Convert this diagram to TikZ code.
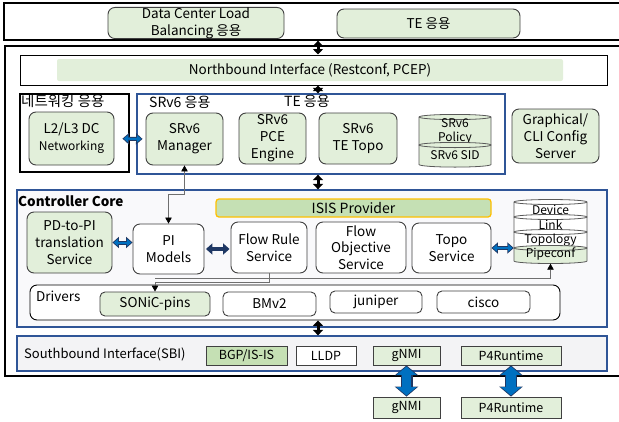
\documentclass[tikz,border=0pt]{standalone}
\usepackage{fontspec}
\setmainfont{Noto Sans CJK KR}
\usetikzlibrary{arrows.meta,calc}
\definecolor{lg}{HTML}{E2EFDA}
\definecolor{mg}{HTML}{C5E0B4}
\definecolor{bl}{HTML}{2F5597}
\definecolor{ablue}{HTML}{0070C0}
\definecolor{adark}{HTML}{1F3864}
\definecolor{corefill}{HTML}{F9F9FB}
\definecolor{sbifill}{HTML}{F3F3F5}
\definecolor{isisb}{HTML}{FFC000}
\definecolor{lineg}{HTML}{404040}
\definecolor{cylline}{HTML}{595959}
\definecolor{connc}{HTML}{6F6F6F}
\tikzset{ctip/.tip={Triangle[length=6pt,width=6.5pt,color=black]}}
\newcommand\cylayer[8]{% name, cx, ytop, ybot, rx, ry, fill, text
  \filldraw[fill=#7, draw=cylline, line width=0.8pt] (#2-#5,-#3) -- (#2-#5,-#4)
    arc[start angle=180, end angle=360, x radius=#5, y radius=#6] -- (#2+#5,-#3)
    arc[start angle=0, end angle=180, x radius=#5, y radius=#6] -- cycle;
  \draw[cylline, line width=0.8pt] (#2-#5,-#3) arc[start angle=180, end angle=360, x radius=#5, y radius=#6];
  \node[cyltxt, minimum width=2*#5, minimum height=#4-#3] (#1) at (#2,{-(#3+#4)/2}) {#8};
}
\begin{document}
\begin{tikzpicture}[x=1pt, y=1pt, font=\fontsize{13.5}{17}\selectfont,
  box/.style={draw=lineg, line width=0.9pt, rounded corners=7pt, align=center, inner sep=0pt},
  gbox/.style={box, fill=lg},
  wbox/.style={box, fill=white},
  sbox/.style={box, rounded corners=5pt},
  frame/.style={draw=black, line width=1.3pt, inner sep=0pt},
  bframe/.style={draw=bl, line width=1.3pt, inner sep=0pt},
  sqbox/.style={draw=lineg, line width=0.8pt, inner sep=0pt, font=\fontsize{12.5}{14}\selectfont},
  lbl/.style={inner sep=0pt},
  cyltxt/.style={inner sep=0pt, align=center, font=\fontsize{12}{14}\selectfont},
  vdbl/.style={line width=3pt, black, {Triangle[length=5.5pt,width=10pt]}-{Triangle[length=5.5pt,width=10pt]}},
  hout/.style={line width=4pt, adark, {Triangle[length=6.5pt,width=11pt]}-{Triangle[length=6.5pt,width=11pt]}},
  hin/.style={line width=2pt, ablue, shorten <=1.3pt, shorten >=1.3pt, {Triangle[length=4.3pt,width=7pt]}-{Triangle[length=4.3pt,width=7pt]}},
  bout/.style={line width=12pt, adark, {Triangle[length=10pt,width=23pt]}-{Triangle[length=10pt,width=23pt]}},
  bin/.style={line width=9.6pt, ablue, shorten <=1.2pt, shorten >=1.2pt, {Triangle[length=8.2pt,width=19.5pt]}-{Triangle[length=8.2pt,width=19.5pt]}},
  conn/.style={connc, line width=0.8pt}
]
\useasboundingbox (0,0) rectangle (619,-421);
\coordinate (ax) at (318,0);
% ---------- outer frames
\node[frame, minimum width=621pt, minimum height=37pt] (topframe) at (314.5,-21.5) {};
\node[frame, minimum width=620pt, minimum height=330pt] (mainframe) at (315,-211) {};
% ---------- top applications
\node[gbox, minimum width=176pt, minimum height=30pt] (dclb) at (196,-23) {Data Center Load\\Balancing 응용};
\node[gbox, minimum width=183pt, minimum height=29pt] (teapp) at (428.5,-23.5) {TE 응용};
% ---------- northbound
\node[draw=black, line width=1pt, inner sep=0pt, minimum width=587pt, minimum height=30pt] (nbi) at (313.5,-70) {};
\node[fill=lg, rounded corners=2pt, inner sep=0pt, minimum width=506pt, minimum height=22pt] (nbitext) at (310,-70) {Northbound Interface (Restconf, PCEP)};
% ---------- application row
\node[frame, line width=1.1pt, minimum width=109pt, minimum height=78pt] (netapp) at (74.5,-133) {};
\node[lbl, anchor=north west, font=\fontsize{14.5}{17}\selectfont] (netlbl) at (21,-94.5) {네트워킹 응용};
\node[gbox, minimum width=85pt, minimum height=53pt] (l2l3) at (71.5,-138.5) {L2/L3 DC\\{\fontsize{12}{14}\selectfont Networking}};
\node[bframe, fill=white, minimum width=368pt, minimum height=80pt] (srv6app) at (321,-134) {};
\node[lbl, anchor=west, font=\fontsize{14}{17}\selectfont] (srv6lbl) at (149,-102) {SRv6 응용};
\node[lbl, anchor=west, font=\fontsize{14}{17}\selectfont] (telbl) at (284,-101) {TE 응용};
\node[gbox, minimum width=77pt, minimum height=52pt] (mgr) at (184.5,-139) {SRv6\\Manager};
\node[gbox, minimum width=67pt, minimum height=51pt] (pce) at (272.5,-138.5) {SRv6\\PCE\\Engine};
\node[gbox, minimum width=78pt, minimum height=51pt] (tetopo) at (358,-138.5) {SRv6\\TE Topo};
\cylayer{policy}{455}{117}{145}{36}{2.6}{lg}{SRv6\\Policy}
\cylayer{sid}{455}{145}{164.5}{36}{2.6}{lg}{SRv6 SID}
\node[gbox, minimum width=87pt, minimum height=54pt] (gcli) at (555.5,-136) {Graphical/\\CLI Config\\Server};
% ---------- controller core
\node[bframe, fill=corefill, minimum width=590pt, minimum height=137pt] (core) at (312,-258.5) {};
\node[lbl, anchor=west, font=\fontsize{13.5}{16}\selectfont\bfseries] (corelbl) at (18,-201) {Controller Core};
\node[draw=isisb, fill=mg, line width=1.3pt, rounded corners=3pt, inner sep=0pt, minimum width=275pt, minimum height=18pt, font=\fontsize{14}{16}\selectfont] (isis) at (353.5,-208) {ISIS Provider};
\node[gbox, minimum width=85pt, minimum height=61pt] (pd2pi) at (69.5,-242.5) {PD-to-PI\\translation\\Service};
\node[wbox, minimum width=71pt, minimum height=50pt] (pim) at (168.5,-249) {PI\\Models};
\node[wbox, minimum width=76pt, minimum height=51pt] (frs) at (269,-247.5) {Flow Rule\\Service};
\node[wbox, minimum width=90pt, minimum height=51pt, font=\fontsize{13.5}{16.5}\selectfont] (fos) at (361,-247.5) {Flow\\Objective\\Service};
\node[wbox, minimum width=79pt, minimum height=50pt] (topos) at (451.5,-248) {Topo\\Service};
\cylayer{device}{550.5}{202}{217}{36.5}{2.5}{white}{Device}
\cylayer{link}{550.5}{217}{232}{36.5}{2.5}{white}{Link}
\cylayer{topology}{550.5}{232}{248}{36.5}{2.5}{white}{Topology}
\cylayer{pipe}{550.5}{248}{261}{36.5}{2.5}{lg}{Pipeconf}
% ---------- drivers
\node[wbox, draw=black, minimum width=530pt, minimum height=35pt] (drivers) at (295,-302.5) {};
\node[lbl, anchor=west] (drvlbl) at (36,-296) {Drivers};
\node[sbox, fill=lg, minimum width=110pt, minimum height=24pt] (sonic) at (155,-304) {SONiC-pins};
\node[sbox, fill=white, minimum width=93pt, minimum height=24pt] (bmv2) at (269.5,-304) {BMv2};
\node[sbox, fill=white, minimum width=92pt, minimum height=22pt] (juniper) at (376,-302) {juniper};
\node[sbox, fill=white, minimum width=93pt, minimum height=22pt] (cisco) at (483.5,-302) {cisco};
% ---------- southbound
\node[draw=bl, fill=sbifill, line width=1.2pt, inner sep=0pt, minimum width=590pt, minimum height=35pt] (sbi) at (312,-353.5) {};
\node[lbl, anchor=west, font=\fontsize{13}{14}\selectfont] (sbilbl) at (24,-354) {Southbound Interface(SBI)};
\node[sqbox, fill=mg, minimum width=81pt, minimum height=19pt] (bgp) at (246.5,-355.5) {BGP/IS-IS};
\node[sqbox, fill=white, minimum width=60pt, minimum height=19pt] (lldp) at (326,-355.5) {LLDP};
\node[sqbox, fill=lg, minimum width=67pt, minimum height=19pt] (gnmi) at (406.5,-355.5) {gNMI};
\node[sqbox, fill=lg, minimum width=100pt, minimum height=19pt] (p4r) at (511,-355.5) {P4Runtime};
\node[sqbox, fill=lg, minimum width=67pt, minimum height=21pt] (gnmi2) at (406.5,-407.5) {gNMI};
\node[sqbox, fill=lg, minimum width=100pt, minimum height=21pt] (p4r2) at (511,-407.5) {P4Runtime};
% ---------- vertical black double arrows
\draw[vdbl] (topframe.south -| ax) -- (nbi.north -| ax);
\draw[vdbl] (nbi.south -| ax) -- (srv6app.north -| ax);
\draw[vdbl] (srv6app.south -| ax) -- (core.north -| ax);
\draw[vdbl] (drivers.south -| ax) -- (sbi.north -| ax);
% ---------- horizontal double arrows
\draw[hout, shorten <=8pt, shorten >=3pt] (l2l3.east) -- (mgr.west);
\draw[hin, shorten <=9.3pt, shorten >=4.3pt] (l2l3.east) -- (mgr.west);
\draw[hout] (pd2pi.east) -- (pd2pi.east -| pim.west);
\draw[hin] (pd2pi.east) -- (pd2pi.east -| pim.west);
\draw[hout, shorten <=1.5pt, shorten >=1pt] (pim.east) -- (pim.east -| frs.west);
\draw[hout] (topos.east) -- (topos.east -| pipe.west);
\draw[hin] (topos.east) -- (topos.east -| pipe.west);
% ---------- big blue arrows
\draw[bout] (gnmi.south) -- (gnmi2.north);
\draw[bin] (gnmi.south) -- (gnmi2.north);
\draw[bout] (p4r.south) -- (p4r2.north);
\draw[bin] (p4r.south) -- (p4r2.north);
% ---------- thin connectors
\draw[conn, {ctip}-{ctip}] (mgr.south) -- ++(0,-29) -| (pim.north);
\draw[conn, -{ctip}] (frs.south) -- ++(0,-9) -| (sonic.north);
\coordinate (pcs) at (155,-278);
\draw[conn, -{ctip}] (pcs) -| ($(pipe.south)+(0,-2.5)$);
\end{tikzpicture}
\end{document}
